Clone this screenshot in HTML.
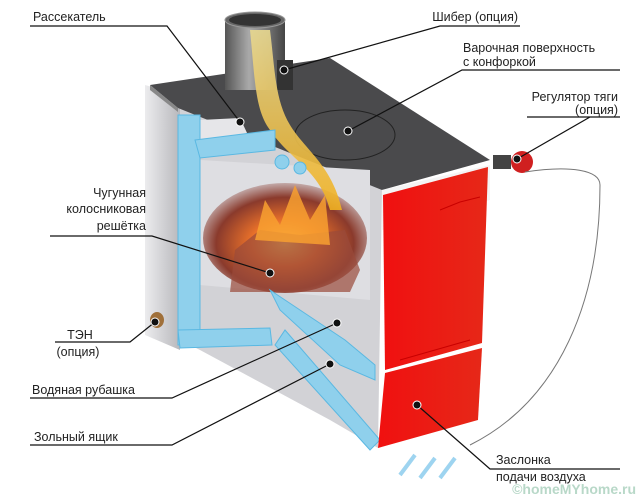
<!DOCTYPE html>
<html><head><meta charset="utf-8"><style>
html,body{margin:0;padding:0;background:#fff;}
svg{display:block;}
text{font-family:"Liberation Sans",sans-serif;font-size:12.5px;fill:#222;}
</style></head><body>
<svg width="640" height="499" viewBox="0 0 640 499" xmlns="http://www.w3.org/2000/svg">
<defs>
<linearGradient id="pipe" x1="0" x2="1"><stop offset="0" stop-color="#555"/><stop offset="0.4" stop-color="#aaa"/><stop offset="1" stop-color="#444"/></linearGradient>
<linearGradient id="side" x1="0" x2="1"><stop offset="0" stop-color="#ececee"/><stop offset="1" stop-color="#b8b8bc"/></linearGradient>
<radialGradient id="fire" cx="0.5" cy="0.55" r="0.6"><stop offset="0" stop-color="#ffd060"/><stop offset="0.35" stop-color="#e8702a"/><stop offset="0.7" stop-color="#8a3a2c"/><stop offset="1" stop-color="#d8d4d8"/></radialGradient>
<linearGradient id="smoke" x1="0" x2="0" y1="0" y2="1"><stop offset="0" stop-color="#e8d890"/><stop offset="1" stop-color="#f0b020"/></linearGradient>
<linearGradient id="red" x1="0" x2="1"><stop offset="0" stop-color="#f01010"/><stop offset="1" stop-color="#e62818"/></linearGradient>
</defs>
<polygon points="145,85 180,95 180,350 145,335" fill="url(#side)"/>
<polygon points="180,100 382,188 378,448 330,420 200,350 180,340" fill="#d2d2d6"/>
<polygon points="150,85 330,58 490,160 382,190 178,108" fill="#4a4a4c"/>
<polygon points="150,85 178,108 178,112 150,90" fill="#888"/>
<ellipse cx="345" cy="135" rx="50" ry="25" fill="none" stroke="#222" stroke-width="1"/>
<rect x="225" y="20" width="60" height="70" fill="url(#pipe)"/>
<ellipse cx="255" cy="20" rx="30" ry="8" fill="#666" stroke="#999"/>
<ellipse cx="255" cy="20" rx="26" ry="6" fill="#333"/>
<rect x="277" y="60" width="16" height="30" fill="#333"/>
<polygon points="200,120 240,118 255,150 200,150" fill="#e6e6e9"/>
<polygon points="200,160 370,170 370,300 200,285" fill="#dedee2"/>
<ellipse cx="285" cy="238" rx="82" ry="55" fill="url(#fire)"/>
<polygon points="235,250 260,230 300,235 345,230 360,270 350,292 230,292" fill="#9a4a3a" opacity="0.7"/>
<path d="M255,240 L265,200 L280,225 L295,185 L310,220 L325,195 L330,245 Z" fill="#f8a030" opacity="0.85"/>
<path d="M250,30 C255,80 255,110 270,130 C290,160 320,170 330,210 L342,210 C332,165 305,150 290,125 C275,100 275,70 270,30 Z" fill="url(#smoke)" opacity="0.9"/>
<g fill="#8fd0ec" stroke="#5ab8e2" stroke-width="1">
<polygon points="178,115 200,115 200,343 178,345"/>
<polygon points="178,330 270,328 272,345 180,348"/>
<polygon points="195,140 275,130 275,150 200,158"/>
<polygon points="270,290 345,340 375,365 375,380 340,365 280,310"/>
<polygon points="285,330 380,440 370,450 275,345"/>
<circle cx="282" cy="162" r="7"/><circle cx="300" cy="168" r="6"/>
</g>
<polygon points="382,190 490,165 490,200 382,230" fill="#f4f4f4"/>
<polygon points="383,195 488,167 482,343 385,370" fill="url(#red)"/>
<polygon points="385,373 482,348 478,420 378,448" fill="url(#red)"/>
<path d="M440,210 l20,-8 l20,-5 M400,360 l70,-20" stroke="#c80000" stroke-width="1" fill="none"/>
<rect x="493" y="155" width="18" height="14" fill="#444"/>
<ellipse cx="522" cy="162" rx="11" ry="11" fill="#d02020"/>
<path d="M525,172 C570,165 600,170 600,185 C600,300 560,400 470,445" fill="none" stroke="#777" stroke-width="1"/>
<ellipse cx="157" cy="320" rx="7" ry="8" fill="#a0703a"/>
<g stroke="#9ed4f0" stroke-width="4" fill="none">
<path d="M400,475 l15,-20 M420,478 l15,-20 M440,478 l15,-20"/>
</g>
<g stroke="#111" stroke-width="1.2" fill="none">
<path d="M30,26 H167 L240,122"/>
<path d="M520,26 H440 L284,70"/>
<path d="M620,70 H462 L348,131"/>
<path d="M620,117 H527 M590,117 L517,159"/>
<path d="M50,236 H152 L270,273"/>
<path d="M55,342 H130 L155,322"/>
<path d="M30,398 H172 L337,323"/>
<path d="M30,445 H172 L330,364"/>
<path d="M620,469 H490 L417,405"/>
</g>
<g fill="#111" stroke="#fff" stroke-width="1">
<circle cx="240" cy="122" r="4"/><circle cx="284" cy="70" r="4"/><circle cx="348" cy="131" r="4"/>
<circle cx="517" cy="159" r="4"/><circle cx="270" cy="273" r="4"/><circle cx="155" cy="322" r="4"/>
<circle cx="337" cy="323" r="4"/><circle cx="330" cy="364" r="4"/><circle cx="417" cy="405" r="4"/>
</g>
<text x="33" y="21">Рассекатель</text>
<text x="518" y="21" text-anchor="end">Шибер (опция)</text>
<text x="463" y="52">Варочная поверхность</text>
<text x="463" y="66">с конфоркой</text>
<text x="618" y="101" text-anchor="end">Регулятор тяги</text>
<text x="618" y="114" text-anchor="end">(опция)</text>
<text x="146" y="197" text-anchor="end">Чугунная</text>
<text x="146" y="213" text-anchor="end">колосниковая</text>
<text x="146" y="230" text-anchor="end">решётка</text>
<text x="80" y="339" text-anchor="middle">ТЭН</text>
<text x="78" y="356" text-anchor="middle">(опция)</text>
<text x="32" y="394">Водяная рубашка</text>
<text x="34" y="441">Зольный ящик</text>
<text x="496" y="464">Заслонка</text>
<text x="496" y="481">подачи воздуха</text>
<text x="636" y="494" text-anchor="end" style="fill:#b8d8c8;font-size:14px;font-weight:bold">©homeMYhome.ru</text>
</svg>
</body></html>
